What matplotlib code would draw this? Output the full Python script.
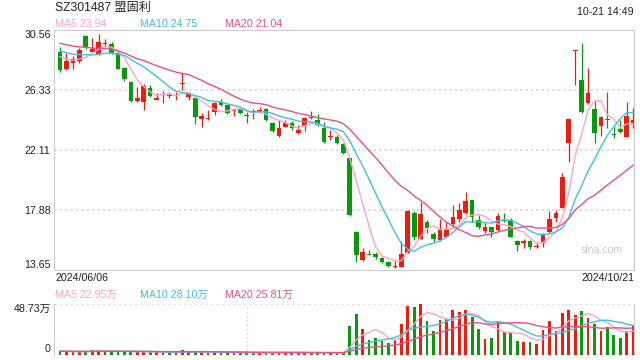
import matplotlib
matplotlib.use('Agg')
import matplotlib.pyplot as plt
import numpy as np

# ---------------- data ----------------
title = "SZ301487 盟固利"
timestamp = "10-21 14:49"
first_date = "2024/06/06"
last_date = "2024/10/21"

price_ticks = [13.65, 17.88, 22.11, 26.33, 30.56]
price_tick_labels = ["13.65", "17.88", "22.11", "26.33", "30.56"]
vol_max = 48.73
vol_tick_labels = ["0", "48.73万"]

ma_price_labels = ["MA5 23.94", "MA10 24.75", "MA20 21.04"]
ma_vol_labels = ["MA5 22.95万", "MA10 28.10万", "MA20 25.81万"]

opens = [29.03, 27.81, 28.26, 28.38, 30.16, 29.01, 28.85, 29.55, 29.57, 28.92,
         27.91, 26.92, 25.56, 25.51, 26.50, 25.65, 26.00, 25.98, 25.93, 26.73,
         25.86, 25.74, 24.31, 24.27, 24.76, 25.49, 25.28, 24.83, 24.97, 24.55,
         24.81, 24.76, 24.99, 24.03, 23.11, 23.75, 24.03, 23.33, 23.80, 24.45,
         24.22, 23.68, 23.01, 23.04, 22.53, 21.52, 16.33, 14.35, 14.78, 14.75,
         14.47, 14.24, 13.88, 13.88, 14.87, 17.65, 15.86, 17.06, 16.16, 15.76,
         16.00, 16.89, 17.22, 17.69, 18.58, 17.17, 16.40, 16.70, 16.47, 17.17,
         17.17, 15.72, 15.57, 15.72, 15.25, 15.53, 16.35, 17.34, 18.04, 22.57,
         29.10, 27.04, 25.44, 24.99, 23.80, 24.29, 23.23, 23.58, 23.04, 24.03]

highs = [29.34, 28.92, 28.73, 29.27, 30.21, 29.97, 30.28, 29.90, 29.74, 28.96,
         27.93, 26.92, 26.57, 26.75, 26.68, 26.10, 26.26, 26.21, 26.21, 27.51,
         26.21, 25.86, 24.69, 24.92, 25.51, 25.67, 25.35, 25.04, 25.16, 24.81,
         24.97, 25.16, 25.04, 24.05, 24.22, 24.22, 24.17, 23.87, 24.45, 24.85,
         24.62, 24.10, 23.51, 23.16, 22.58, 21.56, 16.37, 15.18, 15.06, 14.89,
         14.54, 14.28, 14.31, 15.69, 17.88, 17.80, 18.46, 17.17, 16.35, 17.22,
         17.06, 18.23, 18.39, 19.12, 18.58, 17.53, 16.98, 16.70, 17.69, 17.64,
         17.34, 15.76, 15.81, 15.76, 15.53, 16.23, 17.83, 17.88, 20.46, 24.38,
         29.15, 29.67, 27.86, 25.56, 24.50, 26.21, 23.75, 24.22, 25.51, 25.09]

lows = [27.58, 27.74, 27.79, 28.21, 29.22, 28.99, 28.80, 29.43, 28.87, 27.79,
        26.99, 25.49, 25.51, 24.92, 25.86, 25.63, 25.39, 25.74, 25.63, 26.33,
        25.63, 23.94, 23.75, 24.22, 24.57, 25.23, 24.64, 24.52, 24.62, 24.03,
        24.29, 24.69, 24.15, 23.37, 23.04, 23.70, 23.51, 23.23, 23.47, 24.27,
        23.82, 22.62, 22.81, 22.53, 21.80, 17.48, 14.24, 14.28, 14.71, 14.45,
        14.17, 13.88, 13.81, 13.84, 14.82, 15.75, 15.81, 16.23, 15.65, 15.69,
        15.95, 16.66, 17.06, 17.60, 17.06, 16.54, 16.23, 16.00, 16.40, 17.05,
        15.95, 15.01, 15.18, 15.11, 15.17, 15.25, 16.28, 17.05, 18.00, 21.23,
        26.68, 24.69, 25.35, 22.57, 23.09, 23.63, 22.93, 23.33, 23.00, 23.63]

closes = [27.74, 28.38, 28.54, 29.15, 29.34, 29.22, 29.69, 29.62, 28.92, 27.81,
          27.11, 25.56, 25.79, 26.64, 25.93, 25.77, 26.04, 25.91, 26.00, 26.80,
          26.05, 24.45, 24.50, 24.38, 25.44, 25.28, 24.74, 24.88, 24.74, 24.50,
          24.76, 24.92, 24.22, 23.44, 23.63, 23.98, 23.68, 23.51, 24.34, 24.38,
          23.87, 22.69, 23.04, 22.62, 21.87, 17.52, 14.73, 14.89, 14.73, 14.59,
          14.24, 13.96, 13.93, 14.78, 17.83, 16.00, 17.60, 16.59, 15.81, 16.47,
          16.47, 17.41, 17.88, 18.51, 17.36, 16.66, 16.70, 16.30, 17.45, 17.10,
          16.00, 15.41, 15.72, 15.25, 15.34, 16.19, 17.22, 17.64, 20.23, 24.29,
          29.15, 24.81, 26.14, 23.33, 24.41, 24.22, 23.19, 23.40, 24.50, 24.22]

# volume in 万 (10k)
volumes = [3.0, 2.5, 2.2, 2.6, 3.0, 4.0, 4.2, 2.8, 3.0, 2.8,
           2.6, 3.0, 2.4, 2.8, 2.2, 2.0, 2.2, 1.8, 2.0, 4.5,
           2.4, 2.6, 2.2, 2.0, 2.4, 1.8, 2.0, 1.6, 1.7, 1.8,
           1.6, 1.7, 1.9, 2.0, 2.2, 1.8, 1.7, 1.8, 2.0, 1.7,
           1.6, 2.0, 1.5, 1.6, 1.8, 27.3, 38.9, 24.7, 14.2, 16.1,
           13.2, 11.2, 14.2, 29.0, 46.8, 45.8, 48.73, 31.9, 23.1, 32.9,
           34.6, 42.8, 41.2, 42.8, 35.9, 25.0, 15.1, 16.1, 31.3, 21.4,
           21.4, 13.2, 12.5, 12.5, 10.5, 24.0, 31.9, 23.1, 40.5, 42.8,
           37.9, 41.8, 34.9, 29.0, 22.4, 27.0, 19.1, 16.1, 23.1, 28.0]

# closes / volumes before the window, estimated so the MA lines start where they do
pre_closes = [30.3, 30.5, 30.2, 29.9, 30.4, 30.1, 29.8, 30.0, 30.2, 30.0,
              29.8, 29.6, 29.3, 29.5, 29.4, 29.2, 29.0, 28.7, 28.76]
pre_volumes = [3.4, 3.1, 2.9, 3.6, 3.2, 3.0, 3.3, 2.8, 3.5, 3.1,
               3.0, 3.4, 2.9, 3.2, 3.6, 3.0, 2.8, 3.3, 3.1]

# ---------------- style ----------------
RED = '#f11a0c'
GREEN = '#079a0b'
MA_COLORS = ['#ffa3c4', '#3cc3e0', '#ec4f84']
FRAME = '#cccccc'
GRID = '#dddddd'
TXT = '#222222'
FS = 7.7
FONT = ['Liberation Sans', 'Noto Sans CJK SC', 'DejaVu Sans']
plt.rcParams['font.family'] = FONT

W, H = 640, 360


def fx(px):
    return px / W


def fy(py):
    return 1 - py / H


def moving_avg(pre, vals, n):
    s = np.array(list(pre) + list(vals), float)
    out = np.convolve(s, np.ones(n) / n, mode='valid')
    return out[-len(vals):]


O = np.array(opens); Hh = np.array(highs); L = np.array(lows); C = np.array(closes)
V = np.array(volumes)
N = len(C)
x = np.arange(N)
up = C >= O
cols = np.where(up, RED, GREEN)

fig = plt.figure(figsize=(6.4, 3.6), dpi=100)
fig.patch.set_facecolor('white')

xlim = (-0.93, N - 1 + 0.13)

# ---------------- price panel ----------------
ax = fig.add_axes([fx(54), fy(270), fx(580), 240 / H])
ax.set_xlim(*xlim)
ax.set_ylim(price_ticks[0], price_ticks[-1])
for s in ax.spines.values():
    s.set_color(FRAME)
    s.set_linewidth(0.8)
for yv in price_ticks[1:-1]:
    ax.axhline(yv, color=GRID, lw=1.3, ls=(0, (1.5, 1.5)), zorder=0)

ax.vlines(x, L, Hh, colors=cols, lw=0.9, zorder=2)
body_h = np.maximum(np.abs(C - O), 0.07)
body_b = np.minimum(O, C)
ax.bar(x, body_h, bottom=body_b, width=0.72, color=cols, lw=0, zorder=3)

for n, col in zip([5, 10, 20], MA_COLORS):
    ax.plot(x, moving_avg(pre_closes, closes, n), color=col, lw=1.0, zorder=4)

ax.set_xticks([])
ax.set_yticks(price_ticks)
ax.set_yticklabels(price_tick_labels, fontsize=FS, color=TXT)
ax.tick_params(axis='y', length=0, pad=2.4)
tl = ax.get_yticklabels()
tl[0].set_va('bottom')
tl[-1].set_va('top')

ax.text(0.945, 0.085, 'sina.com', transform=ax.transAxes, ha='center', va='center',
        fontsize=7.6, color='#c9c9c9', zorder=1)

# ---------------- volume panel ----------------
axv = fig.add_axes([fx(54), fy(354.5), fx(580), (354.5 - 304) / H])
axv.set_xlim(*xlim)
axv.set_ylim(0, vol_max)
axv.spines['top'].set_visible(False)
axv.spines['bottom'].set_visible(False)
for k in ['left', 'right']:
    axv.spines[k].set_color(FRAME)
    axv.spines[k].set_linewidth(0.8)
axv.axhline(vol_max, color=GRID, lw=1.3, ls=(0, (1.5, 1.5)), zorder=0)
for frac in (1 / 3, 2 / 3):
    axv.axvline(xlim[0] + (xlim[1] - xlim[0]) * frac, color=GRID, lw=1.0,
                ls=(0, (1.5, 1.5)), zorder=0)
axv.bar(x, V, width=0.42, color=cols, lw=0, zorder=2)
for n, col in zip([5, 10, 20], MA_COLORS):
    axv.plot(x, moving_avg(pre_volumes, volumes, n), color=col, lw=1.0, zorder=3)
axv.set_xticks([])
axv.set_yticks([0, vol_max])
axv.set_yticklabels(vol_tick_labels, fontsize=FS, color=TXT)
axv.tick_params(axis='y', length=0, pad=2.4)
vl = axv.get_yticklabels()
vl[0].set_va('bottom')
vl[-1].set_va('top')

# ---------------- header / footer texts ----------------
fig.text(fx(55), fy(7.5), title, fontsize=8.7, color=TXT, va='center', ha='left')
fig.text(fx(634), fy(12), timestamp, fontsize=FS, color=TXT, va='center', ha='right')

for lbl, col, px in zip(ma_price_labels, MA_COLORS, [55, 140, 225]):
    fig.text(fx(px), fy(23.7), lbl, fontsize=FS, color=col, va='center', ha='left')

fig.text(fx(55), fy(278), first_date, fontsize=FS, color=TXT, va='center', ha='left')
fig.text(fx(634), fy(278), last_date, fontsize=FS, color=TXT, va='center', ha='right')

for lbl, col, px in zip(ma_vol_labels, MA_COLORS, [55, 140, 225]):
    fig.text(fx(px), fy(294.5), lbl, fontsize=FS, color=col, va='center', ha='left')

fig.savefig('out.png', dpi=100, facecolor='white')
